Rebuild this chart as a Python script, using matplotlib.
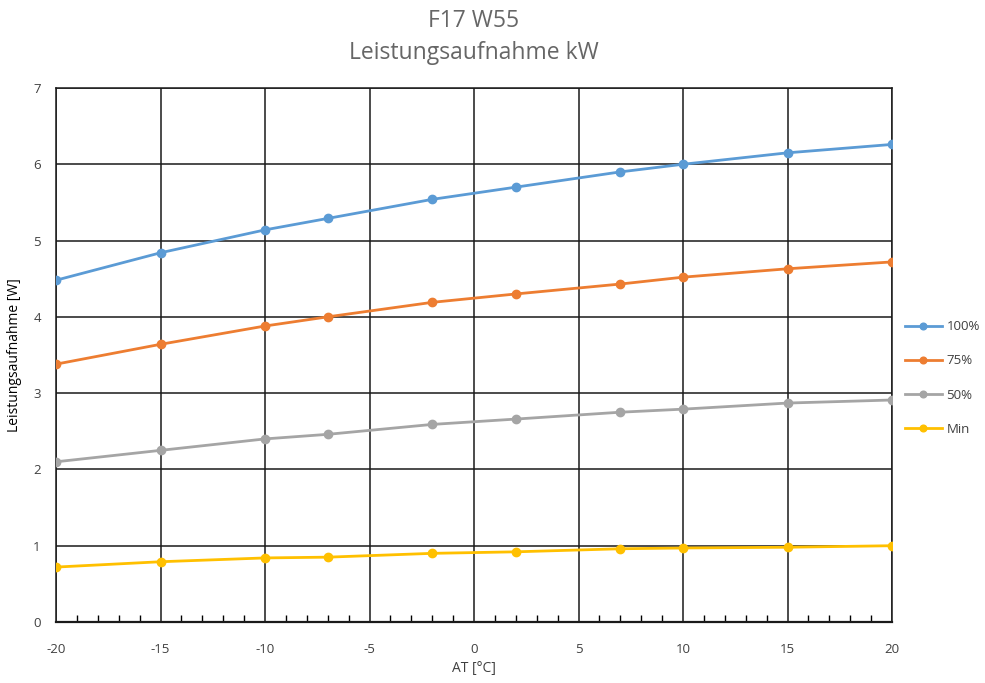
import numpy as np
import matplotlib.pyplot as plt
from matplotlib.ticker import MultipleLocator

plt.rcParams['font.family'] = ['Open Sans', 'DejaVu Sans']
plt.rcParams['axes.unicode_minus'] = False

# outdoor temperature points [°C]
temps = [-20, -15, -10, -7, -2, 2, 7, 10, 15, 20]

# power consumption per compressor stage
p100 = [4.48, 4.84, 5.14, 5.29, 5.54, 5.70, 5.90, 6.00, 6.15, 6.26]
p75 = [3.38, 3.64, 3.88, 4.00, 4.19, 4.30, 4.43, 4.52, 4.63, 4.72]
p50 = [2.10, 2.25, 2.40, 2.46, 2.59, 2.66, 2.75, 2.79, 2.87, 2.91]
pmin = [0.72, 0.79, 0.84, 0.85, 0.90, 0.92, 0.96, 0.97, 0.98, 1.00]

series_labels = ["100%", "75%", "50%", "Min"]
series_colors = ["#5b9bd5", "#ed7d31", "#a5a5a5", "#ffc000"]

fig = plt.figure(figsize=(9.85, 6.83), dpi=100)
ax = fig.add_axes([0.0569, 0.0893, 0.8487, 0.7819])

for vals, lab, col in zip([p100, p75, p50, pmin], series_labels, series_colors):
    ax.plot(temps, vals, color=col, linewidth=2, marker='o', markersize=6, label=lab, zorder=3)

ax.set_xlim(-20, 20)
ax.set_ylim(0, 7)
ax.xaxis.set_major_locator(MultipleLocator(5))
ax.xaxis.set_minor_locator(MultipleLocator(1))
ax.yaxis.set_major_locator(MultipleLocator(1))
ax.grid(True, which='major', color='#1a1a1a', linewidth=1.1)
ax.tick_params(axis='x', which='minor', direction='in', length=5, color='black', width=1)
ax.tick_params(axis='x', which='major', direction='in', length=0, pad=15)
ax.tick_params(axis='y', which='both', length=0, pad=11)
ax.tick_params(labelsize=9.5, labelcolor='#404040')
for sp in ax.spines.values():
    sp.set_color('#1a1a1a')
    sp.set_linewidth(1.1)
ax.spines['bottom'].set_linewidth(1.6)

ax.set_xlabel("AT [°C]", fontsize=10, color='#404040', labelpad=4)
ax.set_ylabel("Leistungsaufnahme [W]", fontsize=10, color='#000000', labelpad=8)
ax.set_title("F17 W55\nLeistungsaufnahme kW", fontsize=16.5, color='#666666', pad=21, linespacing=1.45)

ax.legend(loc='center left', bbox_to_anchor=(1.0155, 0.457), frameon=False, fontsize=9.5,
          labelspacing=1.6, handlelength=2.8, handletextpad=0.35, borderpad=0,
          borderaxespad=0, labelcolor='#404040', markerscale=0.8)

fig.savefig("out.png", dpi=100)
